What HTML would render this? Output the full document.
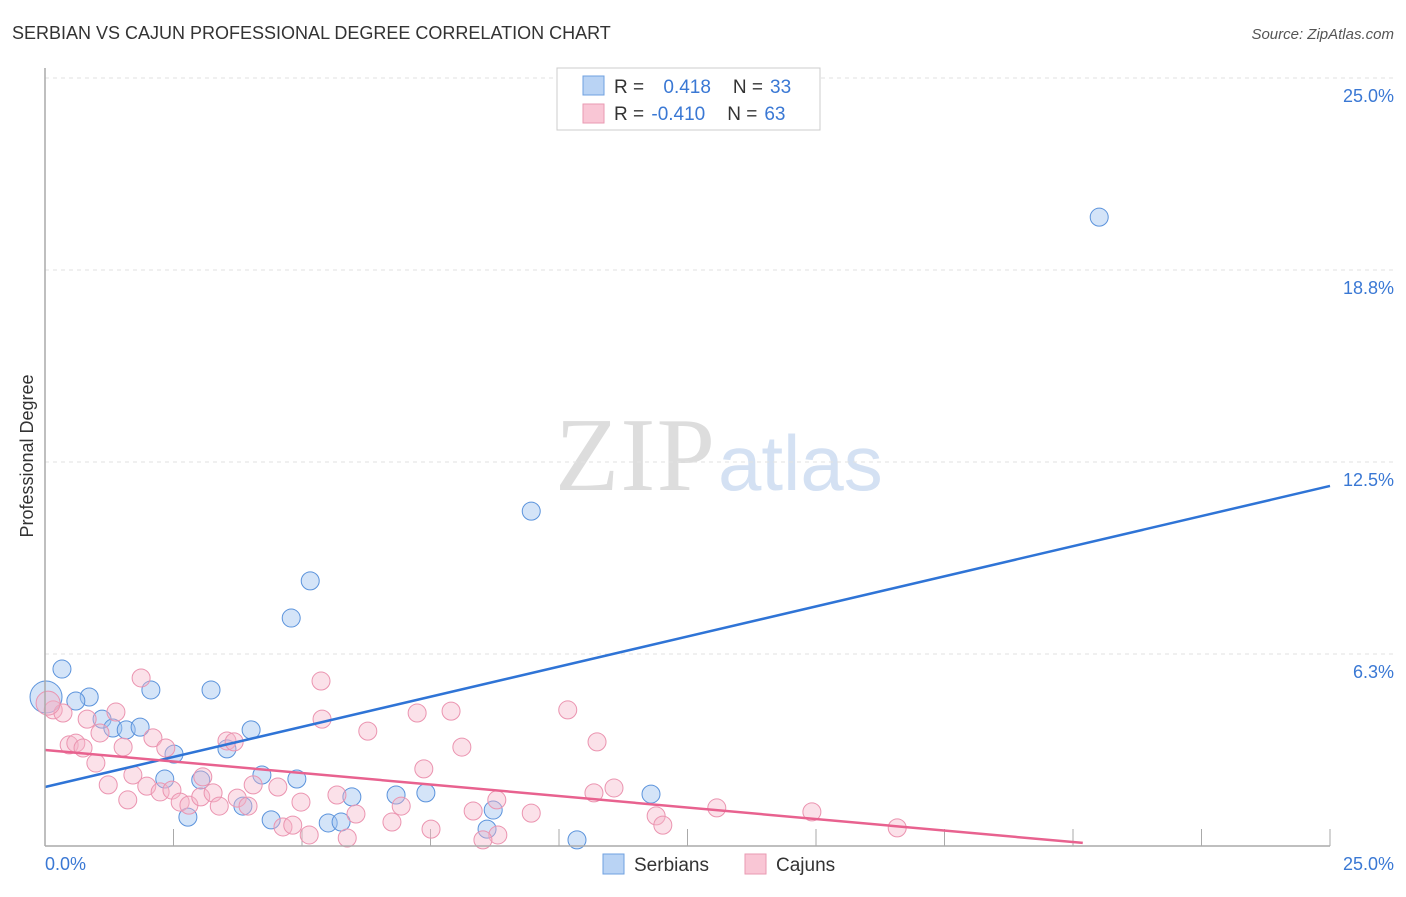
<!DOCTYPE html>
<html><head><meta charset="utf-8"><style>
body{margin:0;background:#fff;font-family:"Liberation Sans",sans-serif;}
#wrap{position:relative;width:1406px;height:892px;}
</style></head><body>
<div id="wrap">
<svg id="svg" width="1406" height="892" xmlns="http://www.w3.org/2000/svg">
<text x="12" y="39" font-size="18" fill="#333">SERBIAN VS CAJUN PROFESSIONAL DEGREE CORRELATION CHART</text>
<text x="1394" y="39" font-size="15" fill="#555" font-style="italic" text-anchor="end">Source: ZipAtlas.com</text>
<text x="33" y="456" font-size="18" fill="#333" text-anchor="middle" transform="rotate(-90 33 456)">Professional Degree</text>
<text x="715" y="490" font-size="105" fill="#ddd" text-anchor="end" font-family="Liberation Serif,serif" textLength="160">ZIP</text>
<text x="718" y="490" font-size="78" fill="#d4e1f3">atlas</text>
<g id="grid"></g><g id="pts"></g><g id="lines"></g>
<line x1="45" y1="68" x2="45" y2="846" stroke="#aaa" stroke-width="1.5"/>
<line x1="45" y1="846" x2="1330" y2="846" stroke="#aaa" stroke-width="1.5"/>
<text x="45" y="870" font-size="18" fill="#3a78d4">0.0%</text>
<text x="1394" y="870" font-size="18" fill="#3a78d4" text-anchor="end">25.0%</text>
<g>
<rect x="557" y="68" width="263" height="62" fill="#fff" stroke="#ccc"/>
<rect x="583" y="76" width="21" height="19" fill="#b9d3f4" stroke="#6fa0e0"/>
<rect x="583" y="104" width="21" height="19" fill="#f9c6d5" stroke="#e99ab2"/>
<text x="614" y="93" font-size="19" fill="#333">R = <tspan fill="#3a78d4" dx="14">0.418</tspan><tspan dx="22" fill="#333">N =</tspan><tspan dx="7" fill="#3a78d4">33</tspan></text>
<text x="614" y="120" font-size="19" fill="#333">R = <tspan fill="#3a78d4" dx="2">-0.410</tspan><tspan dx="22" fill="#333">N =</tspan><tspan dx="7" fill="#3a78d4">63</tspan></text>
</g>
<g>
<rect x="603" y="854" width="21" height="20" fill="#b9d3f4" stroke="#6fa0e0"/>
<text x="634" y="871" font-size="19" fill="#333">Serbians</text>
<rect x="745" y="854" width="21" height="20" fill="#f9c6d5" stroke="#e99ab2"/>
<text x="776" y="871" font-size="19" fill="#333">Cajuns</text>
</g>
</svg>
</div>
<script>
const yTicks=[6.25,12.5,18.75,25];
const yTickLabels=["6.3%","12.5%","18.8%","25.0%"];
const xTicks=[2.5,5,7.5,10,12.5,15,17.5,20,22.5,25];
const serbX=[20.51,9.46,5.16,4.79,0.33,3.23,2.06,0.86,0.60,0.02,1.11,1.32,1.58,1.85,4.01,2.51,3.54,2.33,4.22,4.90,3.03,3.85,5.97,6.83,7.41,8.72,11.79,2.78,4.40,5.51,5.76,8.60,10.35];
const serbY=[20.47,10.90,8.63,7.42,5.76,5.08,5.08,4.85,4.72,4.85,4.13,3.84,3.78,3.87,3.78,2.99,3.16,2.18,2.31,2.18,2.15,1.30,1.60,1.66,1.73,1.17,1.69,0.94,0.85,0.75,0.78,0.55,0.20];
const cajX=[1.87,5.37,0.16,0.35,1.38,0.82,1.07,5.39,7.24,7.90,6.28,8.11,7.37,0.47,0.60,0.74,1.52,2.10,2.35,3.54,3.68,0.99,1.71,1.23,1.98,2.24,2.47,2.63,2.80,1.61,3.07,3.03,3.27,3.39,3.74,3.95,4.05,4.53,4.98,5.68,6.05,6.75,6.93,7.51,8.33,8.79,8.81,8.52,4.63,4.82,5.14,5.88,10.17,10.74,10.68,11.07,9.46,11.89,12.02,13.07,14.92,16.58,0.06];
const cajY=[5.47,5.37,4.43,4.33,4.36,4.13,3.68,4.13,4.33,4.39,3.74,3.22,2.51,3.29,3.35,3.19,3.22,3.52,3.19,3.42,3.39,2.70,2.31,1.99,1.95,1.76,1.82,1.43,1.33,1.50,2.25,1.60,1.73,1.30,1.56,1.30,1.99,1.92,1.43,1.66,1.04,0.78,1.30,0.55,1.14,1.50,0.36,0.20,0.62,0.68,0.36,0.26,4.43,3.39,1.73,1.89,1.07,0.98,0.68,1.24,1.11,0.59,4.65];
const serbTrend=[0,1.92,25,11.72];
const cajTrend=[0,3.125,20.19,0.1];
const X=v=>45+v/25*1285, Y=v=>846-v/6.25*192;
const NS="http://www.w3.org/2000/svg";
function mk(t,a,p){const e=document.createElementNS(NS,t);for(const k in a)e.setAttribute(k,a[k]);p.appendChild(e);return e;}
const grid=document.getElementById('grid');
yTicks.forEach((t,i)=>{
 const l=mk('line',{x1:45,x2:1394,y1:Y(t),y2:Y(t),stroke:'#e2e2e2','stroke-dasharray':'4,4'},grid);
 
 
 const tx=mk('text',{x:1394,y:Y(t)+24,'font-size':18,fill:'#3a78d4','text-anchor':'end'},grid);
 tx.textContent=yTickLabels[i];
 
 
});
xTicks.forEach(t=>{
 const l=mk('line',{x1:X(t),x2:X(t),y1:829,y2:846,stroke:'#aaa'},grid);
 
 
});
const pts=document.getElementById('pts');
serbX.forEach((x,i)=>{
 const c=mk('circle',{cx:X(x),cy:Y(serbY[i]),r:i==9?16:9,fill:'rgba(160,195,240,0.45)',stroke:'#5b93dc','stroke-width':1},pts);
 
 
});
cajX.forEach((x,i)=>{
 const c=mk('circle',{cx:X(x),cy:Y(cajY[i]),r:i==62?12:9,fill:'rgba(246,180,200,0.4)',stroke:'#eb94b0','stroke-width':1},pts);
 
 
});
const lines=document.getElementById('lines');
const b=mk('line',{x1:X(serbTrend[0]),y1:Y(serbTrend[1]),x2:X(serbTrend[2]),y2:Y(serbTrend[3]),stroke:'#2f74d6','stroke-width':2.5},lines);


const p=mk('line',{x1:X(cajTrend[0]),y1:Y(cajTrend[1]),x2:X(cajTrend[2]),y2:Y(cajTrend[3]),stroke:'#e8628f','stroke-width':2.5},lines);


</script>
</body></html>
